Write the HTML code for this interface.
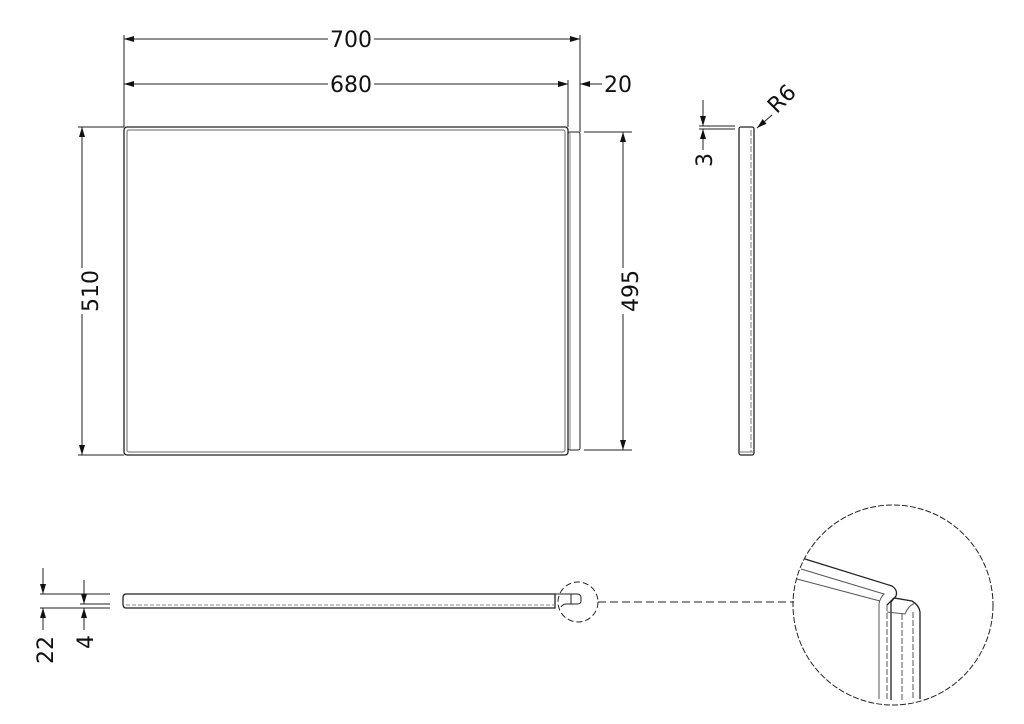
<!DOCTYPE html>
<html><head><style>html,body{margin:0;padding:0;background:#fff}svg{display:block}</style></head>
<body>
<svg width="1024" height="724" viewBox="0 0 1024 724" xmlns="http://www.w3.org/2000/svg" font-family="DejaVu Sans, sans-serif" font-size="20" fill="none" stroke="#222" stroke-width="1">
<defs>
<marker id="a" viewBox="0 0 10 6" refX="10" refY="3" markerWidth="14" markerHeight="6" markerUnits="userSpaceOnUse" orient="auto-start-reverse"><path d="M0,0 L10,3 L0,6z" fill="#111" stroke="none"/></marker>
</defs>
<line x1="124" y1="35" x2="124" y2="127"/>
<line x1="580" y1="35" x2="580" y2="132"/>
<line x1="568" y1="80" x2="568" y2="127"/>
<line x1="124" y1="39" x2="328" y2="39" marker-start="url(#a)"/>
<line x1="374" y1="39" x2="580" y2="39" marker-end="url(#a)"/>
<line x1="124" y1="84" x2="328" y2="84" marker-start="url(#a)"/>
<line x1="374" y1="84" x2="568" y2="84" marker-end="url(#a)"/>
<line x1="548" y1="84" x2="568" y2="84" marker-end="url(#a)"/>
<line x1="602" y1="84" x2="580" y2="84" marker-end="url(#a)"/>
<g fill="#111" stroke="none" font-size="22">
<text x="351" y="47" text-anchor="middle">700</text>
<text x="351" y="92" text-anchor="middle">680</text>
<text x="604" y="92">20</text>
<text transform="translate(98,291) rotate(-90)" text-anchor="middle">510</text>
<text transform="translate(638,291) rotate(-90)" text-anchor="middle">495</text>
<text transform="translate(712,160) rotate(-90)" text-anchor="middle">3</text>
<text transform="translate(787,104) rotate(-45)" text-anchor="middle">R6</text>
<text transform="translate(53,650) rotate(-90)" text-anchor="middle">22</text>
<text transform="translate(93,642) rotate(-90)" text-anchor="middle">4</text>
</g>
<rect x="124" y="127" width="444" height="328" rx="3" stroke-width="1.3"/>
<rect x="127" y="130" width="438" height="322" rx="2" stroke="#666"/>
<rect x="568" y="132" width="12" height="318" rx="2"/>
<line x1="570" y1="133" x2="570" y2="449" stroke="#888"/>
<line x1="78" y1="127" x2="124" y2="127"/>
<line x1="78" y1="455" x2="124" y2="455"/>
<line x1="82" y1="127" x2="82" y2="268" marker-start="url(#a)"/>
<line x1="82" y1="314" x2="82" y2="455" marker-end="url(#a)"/>
<line x1="584" y1="132" x2="632" y2="132"/>
<line x1="584" y1="450" x2="632" y2="450"/>
<line x1="623" y1="132" x2="623" y2="268" marker-start="url(#a)"/>
<line x1="623" y1="314" x2="623" y2="450" marker-end="url(#a)"/>
<rect x="739" y="127" width="15" height="328" rx="2" stroke-width="1.3"/>
<line x1="751" y1="130" x2="751" y2="452" stroke="#777" stroke-dasharray="6 2"/>
<line x1="740" y1="452" x2="753" y2="452" stroke="#777"/>
<line x1="699" y1="126" x2="735" y2="126"/>
<line x1="699" y1="129" x2="735" y2="129"/>
<line x1="703" y1="100" x2="703" y2="126" marker-end="url(#a)"/>
<line x1="703" y1="150" x2="703" y2="129" marker-end="url(#a)"/>
<line x1="772" y1="115" x2="757" y2="128" marker-end="url(#a)"/>
<path d="M126,594 H555 V608 H126 Q123,608 123,604 V598 Q123,594 126,594z" stroke-width="1.3"/>
<line x1="126" y1="605" x2="555" y2="605" stroke="#888" stroke-dasharray="4 2"/>
<path d="M555,594 H577 Q581,594 581,598 V601 Q581,604 577,604 H566 Q563,604 561,607" />
<line x1="571" y1="594" x2="571" y2="604"/>
<line x1="40" y1="594" x2="110" y2="594"/>
<line x1="40" y1="608" x2="110" y2="608"/>
<line x1="80" y1="604" x2="110" y2="604"/>
<line x1="43" y1="568" x2="43" y2="594" marker-end="url(#a)"/>
<line x1="43" y1="630" x2="43" y2="608" marker-end="url(#a)"/>
<line x1="84" y1="580" x2="84" y2="604" marker-end="url(#a)"/>
<line x1="84" y1="630" x2="84" y2="608" marker-end="url(#a)"/>
<circle cx="578" cy="602" r="20" stroke-dasharray="6 3"/>
<line x1="598" y1="602" x2="794" y2="602" stroke-dasharray="8 4"/>
<circle cx="893" cy="605" r="100" stroke-dasharray="6 2"/>
<g>
<path d="M805,559 L892,586 Q898,590 896,596 L891,602 V700" stroke-width="1.3"/>
<path d="M801,569 L884,594 Q880,598 879,604 V699" stroke="#555"/>
<path d="M797,579 L880,601" stroke="#555"/>
<path d="M887,605 L894,598 L912,601 Q919,605 920,612 V699" stroke-width="1.3"/>
<path d="M887,612 L905,614 Q908,606 915,603" stroke="#555"/>
<line x1="887" y1="605" x2="887" y2="700" stroke="#555" stroke-dasharray="6 2"/>
<line x1="902" y1="614" x2="902" y2="700" stroke="#555" stroke-dasharray="6 2"/>
<line x1="913" y1="612" x2="913" y2="699" stroke="#555" stroke-dasharray="6 2"/>
</g>
</svg>
</body></html>
